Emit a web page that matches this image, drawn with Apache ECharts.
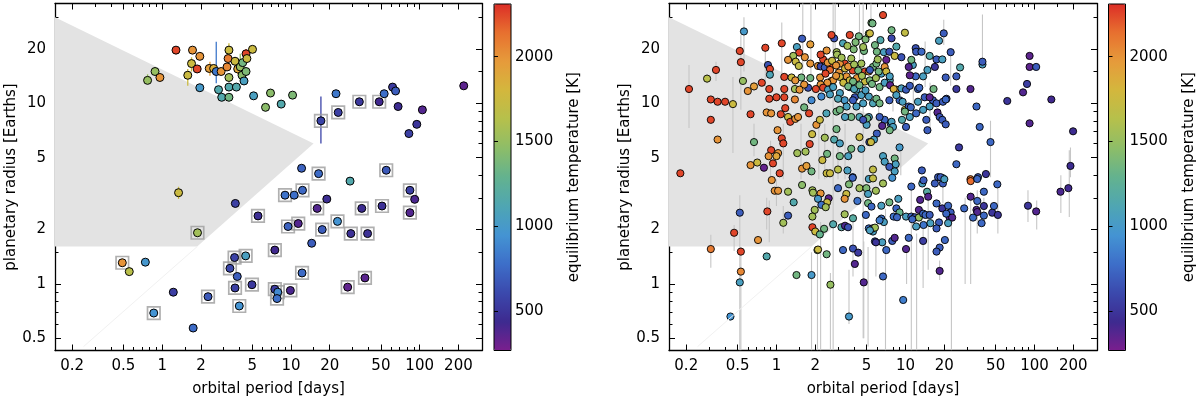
<!DOCTYPE html>
<html><head><meta charset="utf-8">
<script src="https://cdn.jsdelivr.net/npm/echarts@6.0.0/dist/echarts.min.js"></script>
<style>html,body{margin:0;padding:0;background:#fff}#c{width:1200px;height:402px}</style>
</head><body><div id="c"></div>
<script>
// ---------- tick values ----------
const xTickLabels = [0.2, 0.5, 1, 2, 5, 10, 20, 50, 100, 200];
const xMinorTicks = [0.3, 0.4, 0.6, 0.7, 0.8, 0.9, 1.5, 3, 4, 6, 7, 8, 9, 15, 30, 40, 60, 70, 80, 90, 150];
const yTickLabels = [0.5, 1, 2, 5, 10, 20];
const yMinorTicks = [0.6, 0.7, 0.8, 0.9, 1.5, 3, 4, 6, 7, 8, 9, 15, 30];
const cbTickLabels = [500, 1000, 1500, 2000];

// ---------- desert region (period [d], radius [R_E]) ----------
const desertPolygon = [[0.147, 30.0], [15.0, 6.0], [1.87, 1.61], [0.147, 1.61]];
const desertFaintEdge = [[1.87, 1.61], [0.245, 0.45]];

// ---------- temperature colour scale ----------
const tempRange = [270, 2310];
const tempColors = ['#7a1f8e','#3d2a8f','#3b49ad','#3d6fc9','#4494d3','#4fa6b2','#63b28f','#8dbd68','#b5c04c','#d3b73d','#e69b3b','#e7712f','#dc2e27'];

// ---------- left panel: [period, radius, Teq, boxed] ----------
const leftPlanets = [
[1.28,19.7,2250,0],[1.72,19.7,2000,0],[1.96,18.2,2000,0],[1.69,16.6,1750,0],[1.87,15.5,2250,0],
[1.58,14.3,1750,0],[1.96,12.2,1000,0],[0.77,13.4,1500,0],[0.88,15.0,1500,0],[0.96,13.9,2000,0],
[2.32,15.6,1950,0],[2.51,15.6,1850,0],[2.63,15.0,820,0],[2.87,15.0,2000,0],[2.74,11.9,1150,0],
[2.9,10.8,1150,0],[3.3,10.8,1350,0],[3.3,12.3,1150,0],[3.77,12.3,1150,0],[3.3,13.9,1550,0],
[3.19,15.9,2050,0],[3.25,17.7,2100,0],[3.3,19.7,1750,0],[3.68,17.1,1750,0],[3.86,15.5,1900,0],
[4.04,15.9,1500,0],[4.22,16.8,1350,0],[4.48,18.8,2250,0],[4.55,17.7,1750,0],[5.03,19.9,1750,0],
[4.17,14.3,1450,0],[4.48,15.0,1400,0],[4.32,13.3,1050,0],[5.13,11.0,1050,0],[6.35,9.5,1450,0],
[6.94,11.4,1450,0],[8.4,9.9,1150,0],[10.3,11.1,1400,0],[22.4,11.3,820,0],[34,10.2,520,1],
[48.5,10.2,430,1],[53,11.3,780,0],[61.6,12.3,530,0],[65,11.7,700,0],[68,9.6,450,0],
[105,9.2,380,0],[95,7.65,500,0],[82.5,6.8,560,0],[220,12.5,350,0],[23.3,8.9,560,1],
[17.1,8.0,580,1],[12.1,4.37,720,0],[16.4,4.08,760,1],[28.8,3.71,1150,0],[55,4.26,680,1],
[84,3.3,560,1],[91.5,2.94,400,0],[12.3,3.3,750,1],[10.6,3.1,780,0],[9.0,3.1,800,1],
[19,2.95,460,0],[16,2.62,380,1],[35.5,2.62,450,1],[51,2.7,480,1],[84,2.48,380,1],
[9.5,2.08,720,1],[11.4,2.16,380,1],[17.5,2.0,700,1],[23,2.22,950,1],[29.2,1.9,480,1],
[39.4,1.9,480,1],[14.5,1.68,700,0],[12.2,1.15,760,1],[9.9,0.92,400,1],[27.6,0.96,340,1],
[37.6,1.08,360,1],[3.7,2.79,560,0],[5.55,2.38,470,1],[1.88,1.92,1550,1],[7.5,1.54,430,1],
[0.49,1.31,2000,1],[0.555,1.17,1650,0],[0.74,1.32,980,0],[3.65,1.40,570,1],[4.45,1.43,1050,1],
[3.36,1.22,600,1],[3.83,1.10,700,0],[1.22,0.90,550,0],[3.68,0.95,560,1],[4.98,0.99,520,1],
[2.27,0.85,680,1],[3.97,0.755,950,1],[0.86,0.69,950,1],[1.74,0.57,760,0],[7.5,0.935,540,1],
[7.9,0.90,900,1],[7.8,0.83,780,1],[1.34,3.2,1750,0]
];
// left panel radius error bars: [period, low, high, Teq]
const leftErrors = [
[2.63,12.9,21.9,820],[17.1,6.0,10.9,580],[3.3,18.0,21.5,1750],[4.04,13.4,18.8,1500],
[1.69,15.0,18.0,1750],[1.58,12.5,15.5,1750],[2.35,14.2,17.0,1950],[0.77,12.8,14.5,1500],
[1.34,2.95,3.45,1750],[3.86,14.5,17.5,1900],[4.48,17.5,20.0,2250]
];

// ---------- right panel: [period, radius, Teq] ----------
const rightPlanets = [
[0.56,25,1000],[0.52,19.5,2250],[0.53,16.9,2250],[0.82,20.3,2250],[1.1,21.5,2250],[0.34,15.3,2250],
[0.29,13.7,1650],[0.21,12.0,2250],[0.31,10.5,2250],[0.35,10.2,2250],[0.40,10.2,2250],[0.46,9.9,1750],
[0.31,8.1,2250],[0.35,6.3,2000],[0.18,4.1,2250],[0.55,13.3,1500],[0.60,11.7,2000],[0.67,12.4,1950],
[0.77,13.0,2250],[0.86,16.3,650],[0.89,15.5,2250],[0.89,14.4,1100],[0.88,12.0,2250],[0.88,10.6,2250],
[0.63,8.7,2250],[0.84,8.9,2000],[0.91,8.8,2000],[1.0,10.8,2250],[1.15,14.0,2250],[1.15,12.0,2250],
[1.15,10.8,2250],[1.39,10.5,2050],[1.17,9.4,2250],[1.08,8.7,2250],[1.23,8.4,1750],[1.28,7.9,2250],
[1.40,8.2,2000],[1.47,8.4,2000],[1.02,7.1,2000],[1.1,6.4,2250],[1.13,6.0,2250],[0.67,6.1,1350],
[0.91,5.5,2250],[0.87,5.1,2000],[1.03,5.3,2000],[1.0,5.1,1900],[0.94,4.65,2250],[0.63,4.55,2000],
[0.71,4.7,1750],[0.80,4.4,330],[1.06,4.1,2250],[1.45,5.3,1550],[1.68,5.4,1550],[1.81,5.95,2250],
[1.89,6.75,1750],[2.04,7.6,2000],[2.17,8.1,1750],[1.79,8.8,2250],[1.64,9.5,1350],[1.58,4.35,2000],
[1.71,4.5,1950],[1.87,4.2,1350],[2.37,6.45,1550],[2.47,5.25,1350],[2.27,4.85,1750],[2.8,6.3,1150],
[2.92,7.2,1350],[3.1,6.0,1050],[3.1,5.1,1350],[3.6,5.1,1050],[3.8,5.6,1350],[3.0,4.3,1650],
[3.55,4.25,1050],[3.9,3.9,750],[4.4,6.5,1750],[4.55,5.6,1050],[5.0,7.6,1050],[5.2,8.4,1050],
[5.25,6.1,650],[2.45,4.1,1750],[2.6,4.1,1750],[1.58,22.8,700],[1.83,21.2,1950],[1.44,20.5,1050],
[1.5,19.1,2250],[1.35,18.3,1550],[1.23,17.4,2000],[1.41,17.0,1750],[1.66,18.0,2000],[1.83,16.6,2000],
[1.49,16.1,1700],[2.1,16.1,2000],[2.2,16.0,600],[2.37,15.8,700],[2.62,15.9,2250],[2.8,22.9,650],
[2.67,23.9,2250],[3.7,23.9,2250],[4.35,23.5,1350],[4.9,22.6,1400],[5.2,24.3,1400],[5.45,27.9,1400],
[3.28,21.5,1100],[2.93,19.2,1550],[2.95,18.6,1550],[3.97,19.9,1400],[4.77,19.5,1350],[4.7,20.5,1550],
[3.38,16.6,2250],[3.1,16.6,2000],[3.8,17.7,1550],[3.9,15.2,2250],[4.55,16.6,1550],[4.85,15.0,2250],
[5.2,15.0,2000],[5.6,15.9,1350],[3.05,14.8,2000],[3.5,14.1,2000],[3.7,13.4,1750],[4.2,13.8,2000],
[4.85,13.2,1750],[5.3,13.4,1400],[2.67,13.3,2000],[2.75,13.4,2000],[2.48,13.0,2000],[2.18,13.9,2000],
[2.2,12.7,2000],[2.02,12.0,2250],[2.3,12.2,2250],[2.51,11.9,1050],[2.23,10.9,900],[1.87,10.4,900],
[1.76,12.2,650],[1.83,13.8,1350],[1.56,13.9,1350],[1.31,13.9,1750],[1.4,13.4,2000],[1.64,12.7,2000],
[1.39,12.0,1550],[1.51,11.9,2000],[3.1,11.4,1050],[3.38,10.4,1000],[3.5,9.6,1050],[4.17,9.6,1050],
[4.05,10.8,650],[3.7,12.3,650],[4.55,11.1,1050],[5.2,10.9,1050],[5.6,10.0,1100],[3.8,8.4,1350],
[4.4,8.4,1100],[3.4,8.4,1050],[5.05,8.25,1350],[2.92,9.0,1350],
[5.3,15.3,700],[5.95,16.6,1350],[6.5,14.6,1050],[7.55,13.4,1100],[8.5,11.9,1950],[9.0,10.4,750],
[3.92,10.4,700],[4.7,10.0,1050],[3.1,9.2,1350],[2.44,8.8,1100],[4.7,8.1,650],[14.5,8.1,700],
[12.5,10.2,1050],[16.3,10.4,700],[20.8,10.6,650],[9.9,9.2,1750],[10.8,8.4,1050],[6.9,8.1,750],
[7.7,7.7,700],[2.6,15.3,2150],[3.1,14.0,1750],[3.92,13.2,1350],[2.75,12.3,1050],[4.17,11.9,1050],
[6.3,12.3,1350],
[2.3,17.5,2250],[2.5,16.8,2000],[2.7,17.2,1750],[2.9,16.2,2000],[3.2,17.9,1550],[3.4,15.6,1750],
[3.6,16.0,2000],[4.0,16.4,1550],[4.3,15.2,1350],[4.6,14.2,1550],[2.4,14.6,2250],[2.9,14.2,2000],
[3.3,13.0,1750],[3.6,12.4,1350],[4.0,12.0,1100],[4.4,12.6,1350],[2.6,11.2,1050],[3.0,10.6,1100],
[4.9,11.8,1050],[5.5,12.8,1350],[5.9,13.8,1550],[6.2,15.0,1350],[2.2,18.6,2250],[2.45,19.6,2000],
[3.55,20.8,1550],[4.1,21.8,1400],[5.8,21.0,1350],[6.4,22.4,1150],
[6.7,30.8,2250],[5.55,27.7,1350],[5.3,24.4,1750],[7.8,25.4,1350],[9.9,24.6,1700],[7.8,22.9,600],
[8.5,20.6,1150],[6.0,19.3,1350],[6.8,19.2,1050],[7.5,19.3,650],[6.1,17.5,1550],[7.1,17.4,330],
[8.25,18.3,1750],[9.3,18.0,650],[12.0,20.2,650],[12.1,19.3,700],[13.3,19.3,750],[15.4,18.3,1150],
[17.4,17.5,700],[19.3,17.5,1050],[19.8,24.4,700],[18.2,22.2,1050],[22.4,19.2,700],[16.9,15.9,500],
[14.8,15.3,1050],[13.7,14.1,1050],[12.0,14.1,750],[10.8,14.3,350],[11.4,16.3,1050],[11.1,17.4,1350],
[6.9,15.9,2000],[7.1,15.0,1750],[7.55,14.1,1050],[6.9,13.0,1050],[7.6,12.6,350],[8.1,12.0,1850],
[9.3,12.1,1050],[10.1,11.9,700],[12.5,12.0,750],[12.8,12.2,750],[16.5,12.0,1350],[8.5,11.1,1050],
[7.5,10.4,700],[5.95,10.6,1350],[6.3,10.0,1350],[9.5,10.2,1050],[10.6,9.6,700],[11.0,9.5,750],
[9.9,9.0,1350],[12.1,8.8,750],[13.7,9.2,1050],[15.4,9.6,1050],[14.1,10.8,700],[15.4,10.8,350],
[17.4,10.0,700],[19.5,10.2,700],[20.5,10.5,750],[17.7,8.9,380],[18.4,8.4,650],[19.3,8.1,700],
[20.5,7.65,700],[14.8,7.1,700],[10.1,7.4,700],[9.4,8.1,1150],[7.8,7.9,1050],[8.0,7.4,1050],
[7.55,7.1,1350],[6.6,7.5,380],[6.3,8.4,700],[6.0,6.8,700],[5.7,6.3,1050],[5.4,6.1,1750],
[9.0,5.7,1000],[6.7,5.1,1050],[6.9,4.75,1050],[8.25,4.95,1350],[8.4,4.6,1050],[7.5,4.45,700],
[5.6,4.3,1700],[8.25,4.2,1050],[13.4,4.25,700],[17.9,3.9,700],[19.5,3.85,1050],[26,5.7,530],
[24.8,4.6,750],[31.9,3.8,2100],[36.5,3.9,700],[42,4.06,500],[45.6,6.1,750],[37.6,7.4,750],
[35.5,9.6,750],[31.9,12.0,380],[24.8,12.0,520],[24.8,14.1,700],[26.5,15.8,1150],[39.5,16.4,1050],
[39.5,17.0,700],[61.5,10.3,500],[81.5,11.5,380],[87.5,12.8,550],[91.6,15.9,350],[91.6,18.3,350],
[103,15.9,700],[135,10.5,430],[91.6,7.75,380],[199,7.0,450],[190,4.5,450],[20.5,13.9,700],
[10.8,12.5,700],[10.6,15.9,380],[159,3.24,400],[183,3.39,430],
[0.92,3.76,2000],[0.97,3.28,2000],[1.03,3.28,2000],[1.23,3.24,1550],[1.58,3.53,1450],[1.36,2.83,1150],
[0.52,2.48,700],[0.85,2.52,2250],[1.23,2.39,700],[1.13,2.18,1550],[0.47,1.92,2250],[0.72,1.75,2000],
[0.31,1.56,2100],[0.53,1.51,2250],[0.84,1.42,1150],[0.53,1.17,2050],[0.52,1.02,1050],[0.44,0.66,950],
[1.43,1.12,1350],[1.87,1.12,1000],[2.62,0.99,1500],[3.65,0.66,1000],[1.9,3.3,1550],[1.92,3.2,1550],
[2.2,3.17,2000],[2.54,2.98,350],[2.1,2.96,1000],[2.47,2.83,1750],[2.23,2.74,800],[2.41,2.66,1550],
[1.98,2.57,1550],[1.9,2.36,1550],[2.75,2.14,1150],[2.34,2.02,1350],[1.9,2.06,2250],[2.0,1.95,1750],
[2.17,1.88,1300],[2.08,1.54,1350],[2.1,1.55,1750],[2.45,1.46,1350],[3.0,3.39,750],[3.48,3.15,1750],
[3.65,3.56,1400],[3.9,3.87,750],[3.38,2.96,2000],[4.24,2.88,800],[4.4,3.39,1550],[4.98,3.39,1400],
[5.2,3.81,1050],[5.13,3.15,1050],[5.13,2.8,1350],[3.38,2.43,1550],[3.92,2.31,1200],[4.93,2.41,750],
[3.19,2.06,1150],[3.4,2.1,400],[3.59,2.06,650],[5.2,2.03,800],[5.6,1.95,1050],[3.28,1.54,750],
[3.92,1.57,650],[4.3,1.49,530],[4.05,1.29,380],[4.75,1.02,380],[5.8,1.72,700],
[5.6,3.84,1700],[6.7,3.6,1550],[5.9,3.28,1550],[7.9,3.87,950],[11.1,3.46,750],[13.5,3.6,1050],
[13.8,3.75,700],[14.7,3.24,1200],[15,3.04,380],[16.9,3.6,700],[19.5,3.6,700],[18.7,3.9,700],
[20,3.8,1050],[13.0,2.92,380],[8.8,2.96,1050],[7.5,2.83,1350],[6.5,2.71,1050],[5.45,2.68,750],
[8.5,2.62,750],[9.0,2.49,1300],[8.1,2.36,800],[8.6,2.34,750],[10.1,2.36,1050],[11.1,2.36,750],
[11.8,2.34,650],[12.7,2.33,1500],[12.7,2.57,380],[13.7,2.45,750],[14.3,2.41,750],[15.4,2.41,700],
[15.6,2.17,1050],[13.8,2.12,800],[12.1,2.08,1050],[11.3,2.28,750],[17.4,2.79,750],[19.3,2.62,500],
[21.4,2.71,750],[22.4,2.49,700],[22.0,2.33,380],[23.0,2.33,380],[20.7,2.45,750],[18.2,2.19,700],
[17.4,2.03,700],[21.4,2.17,1050],[20.2,1.75,750],[18.4,1.59,700],[17.4,1.51,700],[13.7,1.73,550],
[10.1,1.56,380],[10.6,1.8,750],[7.9,1.73,700],[8.25,1.8,380],[7.1,1.54,750],[6.6,1.7,1050],
[5.9,1.7,500],[6.7,1.1,750],[9.6,0.815,850],[18.4,1.18,380],[6.5,2.3,800],[6.8,2.2,1050],
[6.3,2.25,850],[5.55,2.03,450],[5.8,2.05,1550],[5.3,1.98,1050],[32,3.71,2150],[36,3.81,750],
[40.5,3.24,750],[32,3.04,380],[36,2.88,750],[40.5,2.7,500],[28.5,2.62,750],[35.5,2.57,380],
[36,2.5,380],[33.4,2.33,750],[40.5,2.39,750],[38.9,2.17,750],[47,2.48,500],[48.5,2.7,750],
[52,2.41,500],[51.5,3.56,750],[89,2.71,500],[103,2.52,380]
];
// right panel radius error bars: [period, low, high]
const rightErrors = [
[0.21,7.3,16.3],[0.29,12.9,14.5],[0.34,13.3,17.0],[0.46,5.3,14.0],[0.53,9.2,24],[0.56,15,30],
[0.67,5.1,7.7],[0.82,12.3,20],[1.1,14.6,28],[1.13,3.8,7.7],[0.9,3.8,6.2],[1.6,13,36],[1.85,14,36],
[2.75,0.43,36],[2.85,15,36],[4.4,16,36],[4.7,0.5,36],[5.4,27,36],[1.55,3.8,7.7],[2.13,3.8,8.5],
[2.37,3.8,7.7],[3.0,3.8,7],[3.4,3.8,7.7],[0.31,1.23,1.87],[0.47,1.52,2.12],[0.52,0.43,3.1],
[0.53,0.43,1.6],[0.84,2.0,3.0],[0.88,1.7,2.9],[1.87,0.43,1.5],[2.08,0.43,1.5],[2.2,0.43,2.2],
[2.62,0.43,1.15],[3.65,0.6,1.2],[3.92,1.1,2.4],[4.75,0.5,1.72],[5.13,0.45,1.6],[1.0,2.7,3.8],
[1.13,1.9,2.7],[7.0,0.43,2.6],[5.9,1.1,1.7],[10.2,1.0,1.6],[11.1,0.43,3.6],[12.2,0.43,1.9],
[13.7,0.95,2.2],[15.0,1.2,3.2],[18.4,1.05,1.35],[22.7,0.43,2.5],[29,1.0,3.0],[32,1.0,3.2],
[36,1.9,3.3],[40.5,2.1,3.0],[52,1.9,3.7],[89,2.2,3.3],[104,2.0,2.9],[160,2.47,4.0],[186,2.35,5.5],
[19.5,2.8,3.9],[39.5,17,31],[19.8,21,29],[22.4,12.5,19],[45.6,3.9,8.0],[190,3.9,5.7],
[14.2,12.3,22],[11.5,8.5,14],[15.5,7.0,13],[8.0,9,14],[3.3,11,16],[6.2,7,11],[9.2,4,6]
];

// ---------- layout & style ----------
const FONT = 'DejaVu Sans';
const X_MIN = 0.147, X_MAX = 305, Y_MIN = 0.428, Y_MAX = 35.7;
const PANEL_TOP = 3.5, PANEL_H = 347;
const panels = [{left: 55, width: 427, cb: 494}, {left: 669, width: 428, cb: 1108.5}];
const black = {color: '#000', width: 1.3};
const tickStyle = {color: '#000', width: 1};
const txt = {color: '#000', fontFamily: FONT, fontSize: 15};

const grids = [], xAxes = [], yAxes = [], series = [], visualMaps = [];

function makeXAxis(g, pos, vals, len, withLine, withLabel) {
  return {
    type: 'log', logBase: 10, gridIndex: g, position: pos, offset: 0, min: X_MIN, max: X_MAX,
    splitLine: {show: false}, minorTick: {show: false},
    axisLine: {show: withLine, lineStyle: black},
    axisTick: {show: true, inside: true, length: len, customValues: vals, lineStyle: tickStyle},
    axisLabel: withLabel ? Object.assign({show: true, customValues: xTickLabels, margin: 8, formatter: v => String(v)}, txt) : {show: false},
    name: withLabel ? 'orbital period [days]' : '', nameLocation: 'middle', nameGap: 31, nameTextStyle: txt,
    silent: true
  };
}
function makeYAxis(g, pos, vals, len, withLine, withLabel) {
  return {
    type: 'log', logBase: 10, gridIndex: g, position: pos, offset: 0, min: Y_MIN, max: Y_MAX,
    splitLine: {show: false}, minorTick: {show: false},
    axisLine: {show: withLine, lineStyle: black},
    axisTick: {show: true, inside: true, length: len, customValues: vals, lineStyle: tickStyle},
    axisLabel: withLabel ? Object.assign({show: true, customValues: yTickLabels, margin: 9, formatter: v => String(v)}, txt) : {show: false},
    name: withLabel ? 'planetary radius [Earths]' : '', nameLocation: 'middle', nameRotate: 90, nameGap: 35, nameTextStyle: txt,
    silent: true
  };
}

panels.forEach((p, g) => {
  grids.push({left: p.left, top: PANEL_TOP, width: p.width, height: PANEL_H, outerBoundsMode: 'none'});
  xAxes.push(makeXAxis(g, 'bottom', xTickLabels, 6, true, true));
  xAxes.push(makeXAxis(g, 'bottom', xMinorTicks, 3.5, false, false));
  xAxes.push(makeXAxis(g, 'top', xTickLabels, 6, true, false));
  xAxes.push(makeXAxis(g, 'top', xMinorTicks, 3.5, false, false));
  yAxes.push(makeYAxis(g, 'left', yTickLabels, 6, true, true));
  yAxes.push(makeYAxis(g, 'left', yMinorTicks, 3.5, false, false));
  yAxes.push(makeYAxis(g, 'right', yTickLabels, 6, true, false));
  yAxes.push(makeYAxis(g, 'right', yMinorTicks, 3.5, false, false));
});

// colour-bar grids (index 2,3)
panels.forEach((p, i) => {
  const gi = 2 + i;
  grids.push({left: p.cb, top: 4, width: 17, height: 346.5, show: true, borderColor: '#000', borderWidth: 1, backgroundColor: 'transparent', z: 10, outerBoundsMode: 'none'});
  xAxes.push({type: 'value', gridIndex: gi, show: false, min: 0, max: 1});
  yAxes.push({
    type: 'value', gridIndex: gi, position: 'right', min: tempRange[0], max: tempRange[1], z: 10,
    splitLine: {show: false}, axisLine: {show: false},
    axisTick: {show: true, inside: false, length: 4, customValues: cbTickLabels, lineStyle: tickStyle},
    axisLabel: Object.assign({show: true, customValues: cbTickLabels, margin: 4, formatter: v => String(v)}, txt),
    name: 'equilibrium temperature [K]', nameLocation: 'middle', nameRotate: 90, nameGap: 56, nameTextStyle: txt,
    silent: true
  });
});

function desertSeries(ax) {
  return {
    type: 'custom', xAxisIndex: ax, yAxisIndex: ax, silent: true, clip: true,
    data: desertPolygon,
    renderItem: (params, api) => {
      if (params.dataIndex !== 0) return;
      return {type: 'polygon', shape: {points: desertPolygon.map(v => api.coord(v))}, style: {fill: '#e3e3e3'}};
    }
  };
}
function faintSeries(ax) {
  return {type: 'line', xAxisIndex: ax, yAxisIndex: ax, data: desertFaintEdge, symbol: 'none', silent: true,
    lineStyle: {color: '#f1f1f1', width: 1}};
}
function errorSeries(ax, data, colored) {
  return {
    type: 'custom', xAxisIndex: ax, yAxisIndex: ax, silent: true, clip: true, data: data,
    encode: {x: 0, y: [1, 2]},
    renderItem: (params, api) => {
      const a = api.coord([api.value(0), api.value(1)]);
      const b = api.coord([api.value(0), api.value(2)]);
      return {type: 'line', shape: {x1: a[0], y1: a[1], x2: b[0], y2: b[1]},
        style: {stroke: colored ? api.visual('color') : '#c6c6c6', lineWidth: colored ? 1.3 : 1.1}};
    }
  };
}

// left panel series
series.push(desertSeries(0));                                   // 0
series.push(faintSeries(0));                                    // 1
series.push(errorSeries(0, leftErrors.map(d => [d[0], d[1], d[2], d[3]]), true)); // 2
series.push({                                                   // 3 boxes
  type: 'scatter', xAxisIndex: 0, yAxisIndex: 0, silent: true, symbol: 'rect', symbolSize: 12.5,
  data: leftPlanets.filter(d => d[3]).map(d => [d[0], d[1]]),
  itemStyle: {color: 'rgba(0,0,0,0)', borderColor: '#9c9c9c', borderWidth: 1.7}
});
series.push({                                                   // 4 points
  type: 'scatter', xAxisIndex: 0, yAxisIndex: 0, silent: true, symbolSize: 8,
  data: leftPlanets.map(d => [d[0], d[1], d[2]]),
  itemStyle: {borderColor: '#000', borderWidth: 1, opacity: 1}
});
// right panel series
series.push(desertSeries(4));                                   // 5
series.push(faintSeries(4));                                    // 6
series.push(errorSeries(4, rightErrors, false));                // 7
series.push({                                                   // 8
  type: 'scatter', xAxisIndex: 4, yAxisIndex: 4, silent: true, symbolSize: 7.2,
  data: rightPlanets.map(d => [d[0], d[1], d[2]]),
  itemStyle: {borderColor: '#000', borderWidth: 0.9, opacity: 1}
});

panels.forEach((p, i) => {
  visualMaps.push({
    type: 'continuous', min: tempRange[0], max: tempRange[1], seriesIndex: i === 0 ? [2, 4] : [8],
    left: p.cb, top: 4, itemWidth: 17, itemHeight: 346.5, padding: 0, calculable: false,
    hoverLink: false, text: null, inRange: {color: tempColors}, orient: 'vertical'
  });
});

const chart = echarts.init(document.getElementById('c'), null, {renderer: 'canvas'});
chart.setOption({
  animation: false, backgroundColor: '#fff',
  grid: grids, xAxis: xAxes, yAxis: yAxes, visualMap: visualMaps, series: series,
  tooltip: {show: false}
});
</script>
</body></html>
